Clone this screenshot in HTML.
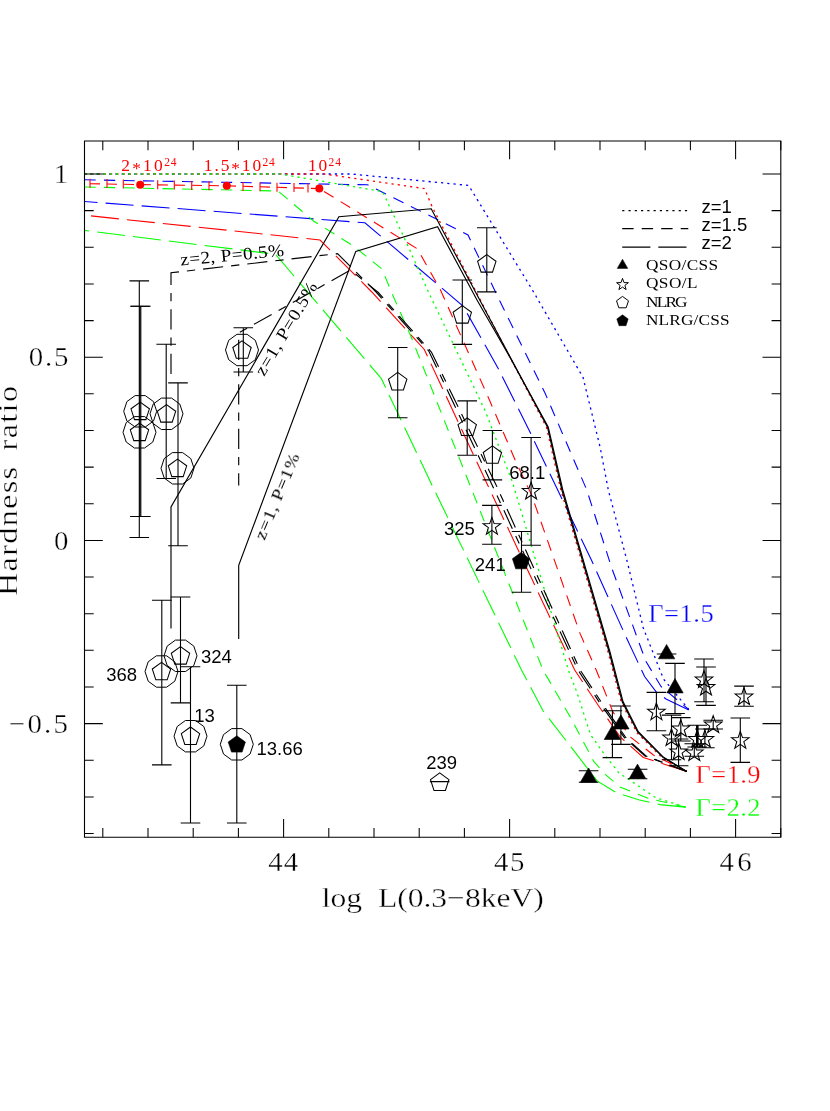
<!DOCTYPE html>
<html><head><meta charset="utf-8"><title>Hardness ratio</title>
<style>html,body{margin:0;padding:0;background:#fff}svg{display:block}</style></head>
<body><svg width="830" height="1111" viewBox="0 0 830 1111">
<rect width="830" height="1111" fill="#fff"/>
<g stroke-linecap="butt" stroke-linejoin="miter">
<polyline points="84.5,201.5 364.9,222.8 463.0,306.0 498.2,368.4 528.6,429.2 557.7,490.0 591.4,560.0 625.6,636.0 644.6,676.5 656.0,691.6 666.0,699.0 688.8,710.0" fill="none" stroke="#0000ff" stroke-width="1.1" stroke-dasharray="28 8.1" stroke-dashoffset="14.9"/>
<polyline points="84.5,179.8 367.4,184.8 427.6,214.7 468.0,235.0 498.2,297.6 545.0,393.0 586.8,490.0 611.6,567.6 645.8,661.2 661.0,686.5 688.8,709.5" fill="none" stroke="#0000ff" stroke-width="1.1" stroke-dasharray="11.2 8.3" />
<polyline points="84.5,174.0 351.0,174.0 468.6,185.4 532.4,290.0 583.0,377.3 600.0,446.7 604.5,470.0 608.3,490.0 626.8,560.0 643.3,628.0 663.5,679.0 688.8,709.5" fill="none" stroke="#0000ff" stroke-width="1.3" stroke-dasharray="2.2 4.07" stroke-dashoffset="0.45"/>
<polyline points="91.0,215.9 320.0,240.0 371.8,292.0 424.3,349.5 487.6,485.0 574.7,670.0 598.0,705.0 620.5,737.2 643.3,757.5 686.7,771.4" fill="none" stroke="#ff0000" stroke-width="1.1" stroke-dasharray="28 8.1" />
<polyline points="84.5,183.6 140.2,184.6 226.8,185.8 319.3,188.6" fill="none" stroke="#ff0000" stroke-width="1.1" stroke-dasharray="10 7" stroke-dashoffset="11.5"/>
<polyline points="319.3,188.6 351.5,208.3 417.3,248.8 440.5,290.0 489.0,399.0 516.0,462.0 531.6,495.0 580.0,633.4 596.2,670.0 612.9,711.9 630.6,737.2 653.4,755.0 686.7,771.4" fill="none" stroke="#ff0000" stroke-width="1.1" stroke-dasharray="11.2 8.3" stroke-dashoffset="14"/>
<polyline points="84.5,174.0 324.4,174.0 424.4,188.6 432.5,207.5 500.0,338.0 546.4,427.2 560.9,490.2 608.1,652.2 621.2,702.0 636.8,732.6 662.6,758.2 686.7,771.4" fill="none" stroke="#ff0000" stroke-width="1.3" stroke-dasharray="2.2 4.07" stroke-dashoffset="-0.45"/>
<polyline points="84.5,230.4 275.5,254.3 381.2,378.4 431.9,484.9 521.5,670.0 543.0,710.8 570.0,745.7 597.1,780.9 615.5,792.3 639.4,800.0 660.0,804.6 686.0,807.2" fill="none" stroke="#00ff00" stroke-width="1.1" stroke-dasharray="28 8.1" stroke-dashoffset="23.3"/>
<polyline points="84.5,187.0 278.0,191.0 313.5,221.0 353.5,246.0 382.0,269.0 392.7,295.0 411.6,338.0 469.9,485.0 543.0,670.0 570.0,716.5 593.9,761.6 605.2,774.4 619.9,786.9 648.0,798.3 686.0,807.2" fill="none" stroke="#00ff00" stroke-width="1.1" stroke-dasharray="11.2 8.3" />
<polyline points="84.5,174.0 280.0,174.0 382.6,191.6 408.0,246.0 427.5,290.0 485.5,411.5 512.6,482.6 568.3,670.0 576.9,692.3 590.4,734.4 604.8,755.0 618.8,772.8 635.0,783.6 655.7,797.7 686.0,807.2" fill="none" stroke="#00ff00" stroke-width="1.3" stroke-dasharray="2.2 4.07" />
<line x1="90.0" y1="178.7" x2="90.0" y2="187.7" stroke="#ff0000" stroke-width="1.1"/>
<line x1="107.0" y1="179.1" x2="107.0" y2="188.1" stroke="#ff0000" stroke-width="1.1"/>
<line x1="123.3" y1="179.4" x2="123.3" y2="188.4" stroke="#ff0000" stroke-width="1.1"/>
<line x1="157.7" y1="180.2" x2="157.7" y2="189.2" stroke="#ff0000" stroke-width="1.1"/>
<line x1="174.3" y1="180.5" x2="174.3" y2="189.5" stroke="#ff0000" stroke-width="1.1"/>
<line x1="191.7" y1="180.9" x2="191.7" y2="189.9" stroke="#ff0000" stroke-width="1.1"/>
<line x1="209.0" y1="181.3" x2="209.0" y2="190.3" stroke="#ff0000" stroke-width="1.1"/>
<line x1="243.0" y1="182.0" x2="243.0" y2="191.0" stroke="#ff0000" stroke-width="1.1"/>
<line x1="260.0" y1="182.3" x2="260.0" y2="191.3" stroke="#ff0000" stroke-width="1.1"/>
<line x1="277.0" y1="182.7" x2="277.0" y2="191.7" stroke="#ff0000" stroke-width="1.1"/>
<line x1="294.0" y1="183.1" x2="294.0" y2="192.1" stroke="#ff0000" stroke-width="1.1"/>
<line x1="308.0" y1="183.4" x2="308.0" y2="192.4" stroke="#ff0000" stroke-width="1.1"/>
<circle cx="140.2" cy="184.8" r="4" fill="#ff0000"/>
<circle cx="226.8" cy="185.8" r="4" fill="#ff0000"/>
<circle cx="319.3" cy="188.6" r="4" fill="#ff0000"/>
<polyline points="171.0,628.6 171.0,507.0 338.9,216.7 431.2,208.8 547.4,426.9 561.9,490.0 609.1,652.0 622.2,701.8 637.6,732.0 663.2,757.6 686.7,771.4" fill="none" stroke="#000" stroke-width="1.15" />
<polyline points="238.7,638.9 238.7,565.3 355.8,251.4 437.6,226.8 477.0,300.0 510.6,358.5 548.2,427.0 562.8,490.0 610.0,652.0 623.0,701.6 638.3,731.7 663.6,757.3 686.7,771.4" fill="none" stroke="#000" stroke-width="1.15" />
<polyline points="171.0,374.0 171.0,272.8 337.5,253.6 376.1,292.0 428.9,351.2 492.1,485.0 577.9,670.0 601.2,705.0 624.0,737.2 645.0,756.0 686.7,771.4" fill="none" stroke="#000" stroke-width="1.15" stroke-dasharray="20.2 8 8.3 8" />
<polyline points="238.7,485.4 238.7,333.0 350.5,270.0 378.3,292.5 431.5,352.2 496.1,485.0 580.1,670.0 603.2,705.0 625.5,737.2 646.0,756.0 686.7,771.4" fill="none" stroke="#000" stroke-width="1.15" stroke-dasharray="20.2 8 8.3 8" stroke-dashoffset="8"/>
</g>
<path d="M139.3 280.9V537.5M129.5 280.9H149.1M129.5 537.5H149.1" stroke="#000" stroke-width="1.1" fill="none"/>
<path d="M139.9 306.2V516.5M130.1 306.2H149.7M130.1 516.5H149.7" stroke="#000" stroke-width="1.1" fill="none"/>
<path d="M140.8 306.2V516.5M131.0 306.2H150.6M131.0 516.5H150.6" stroke="#000" stroke-width="1.1" fill="none"/>
<polygon points="156.7,411.3 153.5,421.0 145.3,427.0 135.1,427.0 126.9,421.0 123.7,411.3 126.9,401.6 135.1,395.6 145.3,395.6 153.5,401.6" fill="none" stroke="#000" stroke-width="1.0"/>
<polygon points="140.2,402.1 149.4,408.8 145.9,419.6 134.5,419.6 131.0,408.8" fill="none" stroke="#000" stroke-width="1.05"/>
<polygon points="156.0,432.3 152.8,442.0 144.6,448.0 134.4,448.0 126.2,442.0 123.0,432.3 126.2,422.6 134.4,416.6 144.6,416.6 152.8,422.6" fill="none" stroke="#000" stroke-width="1.0"/>
<polygon points="139.5,423.1 148.7,429.8 145.2,440.6 133.8,440.6 130.3,429.8" fill="none" stroke="#000" stroke-width="1.05"/>
<path d="M166.2 344.2V478.5M156.4 344.2H176.0M156.4 478.5H176.0" stroke="#000" stroke-width="1.1" fill="none"/>
<polygon points="183.0,413.8 179.8,423.5 171.6,429.5 161.4,429.5 153.2,423.5 150.0,413.8 153.2,404.1 161.4,398.1 171.6,398.1 179.8,404.1" fill="none" stroke="#000" stroke-width="1.0"/>
<polygon points="166.5,404.6 175.7,411.3 172.2,422.1 160.8,422.1 157.3,411.3" fill="none" stroke="#000" stroke-width="1.05"/>
<path d="M178.0 382.9V545.8M168.2 382.9H187.8M168.2 545.8H187.8" stroke="#000" stroke-width="1.1" fill="none"/>
<polygon points="194.0,468.3 190.8,478.0 182.6,484.0 172.4,484.0 164.2,478.0 161.0,468.3 164.2,458.6 172.4,452.6 182.6,452.6 190.8,458.6" fill="none" stroke="#000" stroke-width="1.0"/>
<polygon points="177.5,459.1 186.7,465.8 183.2,476.6 171.8,476.6 168.3,465.8" fill="none" stroke="#000" stroke-width="1.05"/>
<path d="M180.5 597.0V702.9M170.7 597.0H190.3M170.7 702.9H190.3" stroke="#000" stroke-width="1.1" fill="none"/>
<polygon points="197.0,655.8 193.8,665.5 185.6,671.5 175.4,671.5 167.2,665.5 164.0,655.8 167.2,646.1 175.4,640.1 185.6,640.1 193.8,646.1" fill="none" stroke="#000" stroke-width="1.0"/>
<polygon points="180.5,646.6 189.7,653.3 186.2,664.1 174.8,664.1 171.3,653.3" fill="none" stroke="#000" stroke-width="1.05"/>
<path d="M161.8 600.2V764.9M152.0 600.2H171.6M152.0 764.9H171.6" stroke="#000" stroke-width="1.1" fill="none"/>
<polygon points="178.0,671.5 174.8,681.2 166.6,687.2 156.4,687.2 148.2,681.2 145.0,671.5 148.2,661.8 156.4,655.8 166.6,655.8 174.8,661.8" fill="none" stroke="#000" stroke-width="1.0"/>
<polygon points="161.5,662.3 170.7,669.0 167.2,679.8 155.8,679.8 152.3,669.0" fill="none" stroke="#000" stroke-width="1.05"/>
<path d="M190.5 666.7V823.0M180.7 666.7H200.3M180.7 823.0H200.3" stroke="#000" stroke-width="1.1" fill="none"/>
<polygon points="207.0,736.2 203.8,745.9 195.6,751.9 185.4,751.9 177.2,745.9 174.0,736.2 177.2,726.5 185.4,720.5 195.6,720.5 203.8,726.5" fill="none" stroke="#000" stroke-width="1.0"/>
<polygon points="190.5,727.0 199.7,733.7 196.2,744.5 184.8,744.5 181.3,733.7" fill="none" stroke="#000" stroke-width="1.05"/>
<path d="M236.8 685.2V823.0M227.0 685.2H246.6M227.0 823.0H246.6" stroke="#000" stroke-width="1.1" fill="none"/>
<polygon points="253.3,744.3 250.1,754.0 241.9,760.0 231.7,760.0 223.5,754.0 220.3,744.3 223.5,734.6 231.7,728.6 241.9,728.6 250.1,734.6" fill="none" stroke="#000" stroke-width="1.0"/>
<polygon points="236.8,735.8 245.4,742.0 242.1,752.1 231.5,752.1 228.2,742.0" fill="#000" stroke="#000" stroke-width="0.6"/>
<path d="M243.3 327.7V372.0M233.5 327.7H253.1M233.5 372.0H253.1" stroke="#000" stroke-width="1.1" fill="none"/>
<polygon points="258.5,350.0 255.3,359.7 247.1,365.7 236.9,365.7 228.7,359.7 225.5,350.0 228.7,340.3 236.9,334.3 247.1,334.3 255.3,340.3" fill="none" stroke="#000" stroke-width="1.0"/>
<polygon points="242.0,340.8 251.2,347.5 247.7,358.3 236.3,358.3 232.8,347.5" fill="none" stroke="#000" stroke-width="1.05"/>
<path d="M486.8 227.8V291.9M477.0 227.8H496.6M477.0 291.9H496.6" stroke="#000" stroke-width="1.1" fill="none"/>
<polygon points="486.8,254.6 496.0,261.3 492.5,272.1 481.1,272.1 477.6,261.3" fill="none" stroke="#000" stroke-width="1.05"/>
<path d="M462.3 280.0V344.4M452.5 280.0H472.1M452.5 344.4H472.1" stroke="#000" stroke-width="1.1" fill="none"/>
<polygon points="462.3,305.6 471.5,312.3 468.0,323.1 456.6,323.1 453.1,312.3" fill="none" stroke="#000" stroke-width="1.05"/>
<path d="M397.7 347.5V417.8M387.9 347.5H407.5M387.9 417.8H407.5" stroke="#000" stroke-width="1.1" fill="none"/>
<polygon points="397.7,372.4 406.9,379.1 403.4,389.9 392.0,389.9 388.5,379.1" fill="none" stroke="#000" stroke-width="1.05"/>
<path d="M467.2 400.9V455.3M457.4 400.9H477.0M457.4 455.3H477.0" stroke="#000" stroke-width="1.1" fill="none"/>
<polygon points="467.2,418.0 476.4,424.7 472.9,435.5 461.5,435.5 458.0,424.7" fill="none" stroke="#000" stroke-width="1.05"/>
<path d="M492.4 430.5V479.9M482.6 430.5H502.2M482.6 479.9H502.2" stroke="#000" stroke-width="1.1" fill="none"/>
<polygon points="492.4,445.8 501.6,452.5 498.1,463.3 486.7,463.3 483.2,452.5" fill="none" stroke="#000" stroke-width="1.05"/>
<path d="M439.7 781.6V781.6M429.9 781.6H449.5M429.9 781.6H449.5" stroke="#000" stroke-width="1.1" fill="none"/>
<polygon points="439.7,772.9 448.9,779.6 445.4,790.4 434.0,790.4 430.5,779.6" fill="none" stroke="#000" stroke-width="1.05"/>
<path d="M531.1 437.5V545.2M521.3 437.5H540.9M521.3 545.2H540.9" stroke="#000" stroke-width="1.1" fill="none"/>
<polygon points="531.1,482.2 533.3,488.5 539.9,488.6 534.6,492.6 536.6,499.0 531.1,495.2 525.6,499.0 527.6,492.6 522.3,488.6 528.9,488.5" fill="none" stroke="#000" stroke-width="1.05"/>
<path d="M491.9 505.4V544.2M482.1 505.4H501.7M482.1 544.2H501.7" stroke="#000" stroke-width="1.1" fill="none"/>
<polygon points="491.9,517.3 494.1,523.6 500.7,523.7 495.4,527.7 497.4,534.1 491.9,530.3 486.4,534.1 488.4,527.7 483.1,523.7 489.7,523.6" fill="none" stroke="#000" stroke-width="1.05"/>
<path d="M521.5 531.5V592.3M511.7 531.5H531.3M511.7 592.3H531.3" stroke="#000" stroke-width="1.1" fill="none"/>
<polygon points="521.0,552.5 529.6,558.7 526.3,568.8 515.7,568.8 512.4,558.7" fill="#000" stroke="#000" stroke-width="0.6"/>
<path d="M588.6 770.8V782.2M578.8 770.8H598.4M578.8 782.2H598.4" stroke="#000" stroke-width="1.1" fill="none"/>
<polygon points="588.6,768.0 596.8,782.2 580.4,782.2" fill="#000" stroke="#000" stroke-width="0.6"/>
<path d="M637.6 769.3V778.7M627.8 769.3H647.4M627.8 778.7H647.4" stroke="#000" stroke-width="1.1" fill="none"/>
<polygon points="637.5,764.1 645.7,778.4 629.3,778.4" fill="#000" stroke="#000" stroke-width="0.6"/>
<path d="M612.4 710.7V757.6M602.6 710.7H622.2M602.6 757.6H622.2" stroke="#000" stroke-width="1.1" fill="none"/>
<polygon points="612.4,725.2 620.6,739.5 604.2,739.5" fill="#000" stroke="#000" stroke-width="0.6"/>
<path d="M620.9 706.0V744.4M611.1 706.0H630.7M611.1 744.4H630.7" stroke="#000" stroke-width="1.1" fill="none"/>
<polygon points="620.9,714.8 629.1,729.0 612.7,729.0" fill="#000" stroke="#000" stroke-width="0.6"/>
<path d="M666.6 654.0V654.0M656.8 654.0H676.4M656.8 654.0H676.4" stroke="#000" stroke-width="1.1" fill="none"/>
<polygon points="666.6,644.5 674.8,658.8 658.4,658.8" fill="#000" stroke="#000" stroke-width="0.6"/>
<path d="M675.0 663.4V713.5M665.2 663.4H684.8M665.2 713.5H684.8" stroke="#000" stroke-width="1.1" fill="none"/>
<polygon points="675.0,678.6 683.2,692.9 666.8,692.9" fill="#000" stroke="#000" stroke-width="0.6"/>
<path d="M656.4 692.4V730.7M646.6 692.4H666.2M646.6 730.7H666.2" stroke="#000" stroke-width="1.1" fill="none"/>
<polygon points="656.4,702.9 658.6,709.2 665.2,709.3 659.9,713.3 661.9,719.7 656.4,715.9 650.9,719.7 652.9,713.3 647.6,709.3 654.2,709.2" fill="none" stroke="#000" stroke-width="1.05"/>
<path d="M704.0 659.0V701.7M694.2 659.0H713.8M694.2 701.7H713.8" stroke="#000" stroke-width="1.1" fill="none"/>
<polygon points="704.0,670.7 706.2,677.0 712.8,677.1 707.5,681.1 709.5,687.5 704.0,683.7 698.5,687.5 700.5,681.1 695.2,677.1 701.8,677.0" fill="none" stroke="#000" stroke-width="1.05"/>
<path d="M706.0 667.0V705.4M696.2 667.0H715.8M696.2 705.4H715.8" stroke="#000" stroke-width="1.1" fill="none"/>
<polygon points="706.0,678.2 708.2,684.5 714.8,684.6 709.5,688.6 711.5,695.0 706.0,691.2 700.5,695.0 702.5,688.6 697.2,684.6 703.8,684.5" fill="none" stroke="#000" stroke-width="1.05"/>
<path d="M744.0 686.1V706.3M734.2 686.1H753.8M734.2 706.3H753.8" stroke="#000" stroke-width="1.1" fill="none"/>
<polygon points="744.0,687.7 746.2,694.0 752.8,694.1 747.5,698.1 749.5,704.5 744.0,700.7 738.5,704.5 740.5,698.1 735.2,694.1 741.8,694.0" fill="none" stroke="#000" stroke-width="1.05"/>
<path d="M740.3 718.0V762.4M730.5 718.0H750.1M730.5 762.4H750.1" stroke="#000" stroke-width="1.1" fill="none"/>
<polygon points="740.3,731.3 742.5,737.6 749.1,737.7 743.8,741.7 745.8,748.1 740.3,744.3 734.8,748.1 736.8,741.7 731.5,737.7 738.1,737.6" fill="none" stroke="#000" stroke-width="1.05"/>
<path d="M713.2 720.2V729.0M703.4 720.2H723.0M703.4 729.0H723.0" stroke="#000" stroke-width="1.1" fill="none"/>
<polygon points="713.2,715.7 715.4,722.0 722.0,722.1 716.7,726.1 718.7,732.5 713.2,728.7 707.7,732.5 709.7,726.1 704.4,722.1 711.0,722.0" fill="none" stroke="#000" stroke-width="1.05"/>
<path d="M680.8 717.6V741.0M671.0 717.6H690.6M671.0 741.0H690.6" stroke="#000" stroke-width="1.1" fill="none"/>
<polygon points="680.8,719.7 683.0,726.0 689.6,726.1 684.3,730.1 686.3,736.5 680.8,732.7 675.3,736.5 677.3,730.1 672.0,726.1 678.6,726.0" fill="none" stroke="#000" stroke-width="1.05"/>
<path d="M671.5 715.1V759.7M661.7 715.1H681.3M661.7 759.7H681.3" stroke="#000" stroke-width="1.1" fill="none"/>
<polygon points="671.5,728.7 673.7,735.0 680.3,735.1 675.0,739.1 677.0,745.5 671.5,741.7 666.0,745.5 668.0,739.1 662.7,735.1 669.3,735.0" fill="none" stroke="#000" stroke-width="1.05"/>
<path d="M678.6 739.0V765.8M668.8 739.0H688.4M668.8 765.8H688.4" stroke="#000" stroke-width="1.1" fill="none"/>
<polygon points="678.6,742.7 680.8,749.0 687.4,749.1 682.1,753.1 684.1,759.5 678.6,755.7 673.1,759.5 675.1,753.1 669.8,749.1 676.4,749.0" fill="none" stroke="#000" stroke-width="1.05"/>
<path d="M694.3 743.8V756.2M684.5 743.8H704.1M684.5 756.2H704.1" stroke="#000" stroke-width="1.1" fill="none"/>
<polygon points="694.3,743.7 696.5,750.0 703.1,750.1 697.8,754.1 699.8,760.5 694.3,756.7 688.8,760.5 690.8,754.1 685.5,750.1 692.1,750.0" fill="none" stroke="#000" stroke-width="1.05"/>
<path d="M697.2 725.2V747.0M687.4 725.2H707.0M687.4 747.0H707.0" stroke="#000" stroke-width="1.1" fill="none"/>
<polygon points="697.2,730.2 699.4,736.5 706.0,736.6 700.7,740.6 702.7,747.0 697.2,743.2 691.7,747.0 693.7,740.6 688.4,736.6 695.0,736.5" fill="none" stroke="#000" stroke-width="1.05"/>
<path d="M704.9 729.0V747.8M695.1 729.0H714.7M695.1 747.8H714.7" stroke="#000" stroke-width="1.1" fill="none"/>
<polygon points="704.9,730.2 707.1,736.5 713.7,736.6 708.4,740.6 710.4,747.0 704.9,743.2 699.4,747.0 701.4,740.6 696.1,736.6 702.7,736.5" fill="none" stroke="#000" stroke-width="1.05"/>
<path d="M697.3 725.2V747" stroke="#000" stroke-width="2.6"/>
<path d="M84.5 141.0V837.3M780.8 141.0V837.3M84.5 141.0H780.8M84.5 837.3H780.8" stroke="#000" stroke-width="1.1" fill="none" stroke-linecap="square"/>
<path d="M102.8 141.0v9.2M102.8 837.3v-9.2M148.0 141.0v9.2M148.0 837.3v-9.2M193.2 141.0v9.2M193.2 837.3v-9.2M238.4 141.0v9.2M238.4 837.3v-9.2M283.6 141.0v18.3M283.6 837.3v-18.3M328.8 141.0v9.2M328.8 837.3v-9.2M374.0 141.0v9.2M374.0 837.3v-9.2M419.2 141.0v9.2M419.2 837.3v-9.2M464.4 141.0v9.2M464.4 837.3v-9.2M509.6 141.0v18.3M509.6 837.3v-18.3M554.8 141.0v9.2M554.8 837.3v-9.2M600.0 141.0v9.2M600.0 837.3v-9.2M645.2 141.0v9.2M645.2 837.3v-9.2M690.4 141.0v9.2M690.4 837.3v-9.2M735.6 141.0v18.3M735.6 837.3v-18.3M780.8 141.0v9.2M780.8 837.3v-9.2M84.5 833.5h9.2M780.8 833.5h-9.2M84.5 796.9h9.2M780.8 796.9h-9.2M84.5 760.2h9.2M780.8 760.2h-9.2M84.5 723.6h18.3M780.8 723.6h-18.3M84.5 687.0h9.2M780.8 687.0h-9.2M84.5 650.3h9.2M780.8 650.3h-9.2M84.5 613.7h9.2M780.8 613.7h-9.2M84.5 577.0h9.2M780.8 577.0h-9.2M84.5 540.4h18.3M780.8 540.4h-18.3M84.5 503.8h9.2M780.8 503.8h-9.2M84.5 467.1h9.2M780.8 467.1h-9.2M84.5 430.5h9.2M780.8 430.5h-9.2M84.5 393.8h9.2M780.8 393.8h-9.2M84.5 357.2h18.3M780.8 357.2h-18.3M84.5 320.6h9.2M780.8 320.6h-9.2M84.5 283.9h9.2M780.8 283.9h-9.2M84.5 247.3h9.2M780.8 247.3h-9.2M84.5 210.6h9.2M780.8 210.6h-9.2M84.5 174.0h18.3M780.8 174.0h-18.3" stroke="#000" stroke-width="1.05" fill="none"/>
<g style="opacity:0.999">
<text transform="translate(268.3 870.8) scale(1.03 1)" font-size="28" font-family="Liberation Serif, serif" fill="#000" text-anchor="start" textLength="29.1" lengthAdjust="spacing"  stroke="#fff" stroke-width="0.35">44</text>
<text transform="translate(494.0 870.8) scale(1.03 1)" font-size="28" font-family="Liberation Serif, serif" fill="#000" text-anchor="start" textLength="29.6" lengthAdjust="spacing"  stroke="#fff" stroke-width="0.35">45</text>
<text transform="translate(719.6 870.8) scale(1.03 1)" font-size="28" font-family="Liberation Serif, serif" fill="#000" text-anchor="start" textLength="31.1" lengthAdjust="spacing"  stroke="#fff" stroke-width="0.35">46</text>
<text transform="translate(321.8 906.5) scale(1.13 1)" font-size="28" font-family="Liberation Serif, serif" fill="#000" text-anchor="start" textLength="196.5" lengthAdjust="spacing" word-spacing="7" stroke="#fff" stroke-width="0.35">log L(0.3−8keV)</text>
<text transform="translate(53.8 183.4) scale(1.03 1)" font-size="28" font-family="Liberation Serif, serif" fill="#000" text-anchor="start"  stroke="#fff" stroke-width="0.35">1</text>
<text transform="translate(28.7 366.3) scale(1.03 1)" font-size="28" font-family="Liberation Serif, serif" fill="#000" text-anchor="start" textLength="38.5" lengthAdjust="spacing"  stroke="#fff" stroke-width="0.35">0.5</text>
<text transform="translate(54.0 549.6) scale(1.03 1)" font-size="28" font-family="Liberation Serif, serif" fill="#000" text-anchor="start"  stroke="#fff" stroke-width="0.35">0</text>
<text transform="translate(9.0 733.0) scale(1.03 1)" font-size="28" font-family="Liberation Serif, serif" fill="#000" text-anchor="start" textLength="57.1" lengthAdjust="spacing"  stroke="#fff" stroke-width="0.35">−0.5</text>
<text transform="translate(16.8 596) rotate(-90) scale(1.15 1)" word-spacing="5" font-size="28" font-family="Liberation Serif, serif" textLength="182.6" lengthAdjust="spacing" stroke="#fff" stroke-width="0.35">Hardness ratio</text>
<path d="M622.2 210.6H687.5" stroke="#000" stroke-width="1.4" stroke-dasharray="2.2 4.07"/>
<path d="M622.2 228.6H688.3" stroke="#000" stroke-width="1.2" stroke-dasharray="11.4 8.1"/>
<path d="M622.2 247.2H686.6" stroke="#000" stroke-width="1.2" stroke-dasharray="28.2 7.9"/>
<text transform="translate(701.4 212.7) scale(1.0 1)" font-size="18.5" font-family="Liberation Sans, sans-serif" fill="#000" text-anchor="start" >z=1</text>
<text transform="translate(701.4 231.2) scale(1.0 1)" font-size="18.5" font-family="Liberation Sans, sans-serif" fill="#000" text-anchor="start" >z=1.5</text>
<text transform="translate(701.4 248.9) scale(1.0 1)" font-size="18.5" font-family="Liberation Sans, sans-serif" fill="#000" text-anchor="start" >z=2</text>
<polygon points="622.5,259.2 627.8,268.4 617.2,268.4" fill="#000" stroke="#000" stroke-width="0.5"/>
<polygon points="622.5,278.4 624.0,282.6 628.4,282.7 624.9,285.4 626.1,289.6 622.5,287.1 618.9,289.6 620.1,285.4 616.6,282.7 621.0,282.6" fill="none" stroke="#000" stroke-width="1.0"/>
<polygon points="622.5,296.4 628.5,300.8 626.2,307.8 618.8,307.8 616.5,300.8" fill="none" stroke="#000" stroke-width="1.0"/>
<polygon points="622.5,314.8 628.2,318.9 626.0,325.7 619.0,325.7 616.8,318.9" fill="#000" stroke="#000" stroke-width="0.5"/>
<text transform="translate(646.0 269.7) scale(1.12 1)" font-size="15.4" font-family="Liberation Serif, serif" fill="#000" text-anchor="start" textLength="64.3" lengthAdjust="spacing" >QSO/CSS</text>
<text transform="translate(646.0 288.2) scale(1.12 1)" font-size="15.4" font-family="Liberation Serif, serif" fill="#000" text-anchor="start" textLength="46.0" lengthAdjust="spacing" >QSO/L</text>
<text transform="translate(646.0 306.6) scale(1.12 1)" font-size="15.4" font-family="Liberation Serif, serif" fill="#000" text-anchor="start" textLength="37.1" lengthAdjust="spacing" >NLRG</text>
<text transform="translate(646.0 324.8) scale(1.12 1)" font-size="15.4" font-family="Liberation Serif, serif" fill="#000" text-anchor="start" textLength="74.6" lengthAdjust="spacing" >NLRG/CSS</text>
<text transform="translate(648.2 621.8) scale(1.06 1)" font-size="25" font-family="Liberation Serif, serif" fill="#0000ff" text-anchor="start" textLength="61.8" lengthAdjust="spacing"  stroke="#fff" stroke-width="0.25">Γ=1.5</text>
<text transform="translate(695.6 783.1) scale(1.06 1)" font-size="25" font-family="Liberation Serif, serif" fill="#ff0000" text-anchor="start" textLength="61.3" lengthAdjust="spacing"  stroke="#fff" stroke-width="0.25">Γ=1.9</text>
<text transform="translate(695.6 816.1) scale(1.06 1)" font-size="25" font-family="Liberation Serif, serif" fill="#00ff00" text-anchor="start" textLength="61.3" lengthAdjust="spacing"  stroke="#fff" stroke-width="0.25">Γ=2.2</text>
<text x="121.3" y="171.1" font-size="17.4" font-family="Liberation Serif, serif" fill="#ff0000" letter-spacing="2.2">2<tspan dy="3.2">*</tspan><tspan dy="-3.2">10</tspan><tspan dy="-5.3" font-size="11.5" dx="-0.6" letter-spacing="0.8">24</tspan></text>
<text x="203.8" y="171.1" font-size="17.4" font-family="Liberation Serif, serif" fill="#ff0000" letter-spacing="1.9">1.5<tspan dy="3.2">*</tspan><tspan dy="-3.2">10</tspan><tspan dy="-5.3" font-size="11.5" dx="-0.6" letter-spacing="0.8">24</tspan></text>
<text x="308.0" y="171.1" font-size="17.4" font-family="Liberation Serif, serif" fill="#ff0000" letter-spacing="1.9">10<tspan dy="-5.3" font-size="11.5" dx="-0.6" letter-spacing="0.8">24</tspan></text>
<text transform="translate(201.0 662.9) scale(1.0 1)" font-size="18.5" font-family="Liberation Sans, sans-serif" fill="#000" text-anchor="start" >324</text>
<text transform="translate(106.2 680.6) scale(1.0 1)" font-size="18.5" font-family="Liberation Sans, sans-serif" fill="#000" text-anchor="start" >368</text>
<text transform="translate(194.2 721.8) scale(1.0 1)" font-size="18.5" font-family="Liberation Sans, sans-serif" fill="#000" text-anchor="start" >13</text>
<text transform="translate(256.5 754.6) scale(1.0 1)" font-size="18.5" font-family="Liberation Sans, sans-serif" fill="#000" text-anchor="start" >13.66</text>
<text transform="translate(426.2 769.0) scale(1.0 1)" font-size="18.5" font-family="Liberation Sans, sans-serif" fill="#000" text-anchor="start" >239</text>
<text transform="translate(509.2 478.6) scale(1.0 1)" font-size="18.5" font-family="Liberation Sans, sans-serif" fill="#000" text-anchor="start" >68.1</text>
<text transform="translate(444.0 535.3) scale(1.0 1)" font-size="18.5" font-family="Liberation Sans, sans-serif" fill="#000" text-anchor="start" >325</text>
<text transform="translate(474.8 571.3) scale(1.0 1)" font-size="18.5" font-family="Liberation Sans, sans-serif" fill="#000" text-anchor="start" >241</text>
<text transform="translate(180.8 265.6) rotate(-5.4) scale(1.1 1)" font-size="17.5" font-family="Liberation Serif, serif" textLength="94.7" lengthAdjust="spacing">z=2, P=0.5%</text>
<text transform="translate(264 377) rotate(-59.2) scale(1.1 1)" font-size="17.5" font-family="Liberation Serif, serif" textLength="96" lengthAdjust="spacing">z=1, P=0.5%</text>
<text transform="translate(264.5 541) rotate(-67.3) scale(1.1 1)" font-size="17.5" font-family="Liberation Serif, serif" textLength="83.6" lengthAdjust="spacing">z=1, P=1%</text>
</g>
</svg></body></html>
